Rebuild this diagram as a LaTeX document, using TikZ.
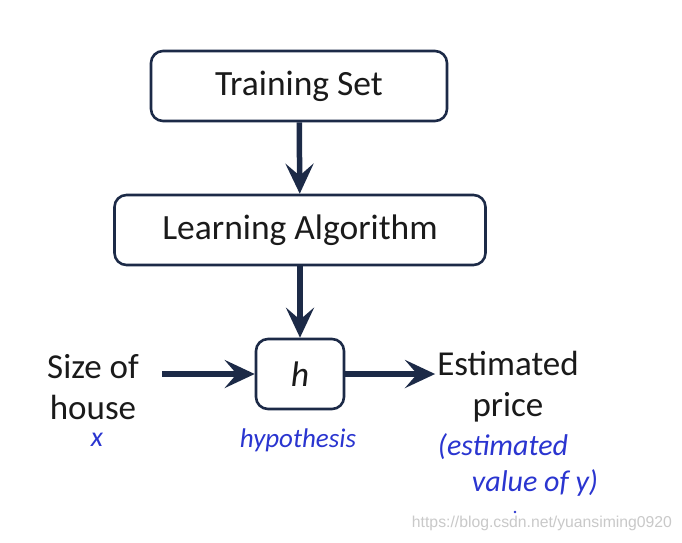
\documentclass[tikz,border=0pt]{standalone}
\usepackage{fontspec}
\setmainfont{Carlito}
\newfontfamily\penfont{Carlito}
\newfontfamily\urlfont{Liberation Sans}
\usetikzlibrary{arrows.meta}
\definecolor{flNavy}{HTML}{1C2A47}
\definecolor{flInk}{HTML}{1A1A1A}
\definecolor{flPen}{HTML}{2A35D0}
\definecolor{flMark}{HTML}{C9C9C9}
\tikzset{
  flbox/.style={
    rounded corners=12pt,
    draw=flNavy,
    line width=2.6pt,
    fill=white,
    align=center,
    minimum height=70pt,
    text=flInk,
    font=\fontsize{35.5}{41}\selectfont
  },
  fllabel/.style={align=center, text=flInk, inner sep=2pt, font=\fontsize{35}{41}\selectfont},
  flarrow/.style={-{Stealth[length=30pt,width=28pt,inset=12pt]}, line width=5.5pt, draw=flNavy},
  flpen/.style={text=flPen, inner sep=0pt, font=\penfont\itshape\fontsize{#1}{#1}\selectfont}
}
\begin{document}
\begin{tikzpicture}[x=1pt,y=-1pt]
  \useasboundingbox[fill=white] (0,0) rectangle (682,542);

  \node[flbox, minimum width=296pt] (train) at (299,86) {\raisebox{-3pt}{Training Set}};
  \node[flbox, minimum width=371pt] (learn) at (300,230) {\raisebox{-2pt}{Learning Algorithm}};
  \node[flbox, minimum width=88pt] (hyp) at (300,374) {\itshape h};

  \node[fllabel] (size) at (93,387) {Size of\\house};
  \node[fllabel] (price) at (508,387) {Estimated\\price};
  \coordinate (xin) at (162,374);

  \draw[flarrow] (train) -- (learn);
  \draw[flarrow] (learn) -- (hyp);
  \draw[flarrow] (xin) -- (hyp);
  \draw[flarrow] (hyp) -- (hyp -| price.west);

  \node[flpen=28] (xvar) at (97,440) {x};
  \node[flpen=27] (hname) at (298,440) {hypothesis};
  \node[flpen=30] (est1) at (503,447) {(estimated};
  \node[flpen=30] (est2) at (535,483) {value of y)};
  \fill[flPen] (515,512) circle (1.3pt);

  \node[text=flMark, inner sep=0pt, font=\urlfont\fontsize{15.75}{18}\selectfont] (mark) at (542,523) {https://blog.csdn.net/yuansiming0920};
\end{tikzpicture}
\end{document}
